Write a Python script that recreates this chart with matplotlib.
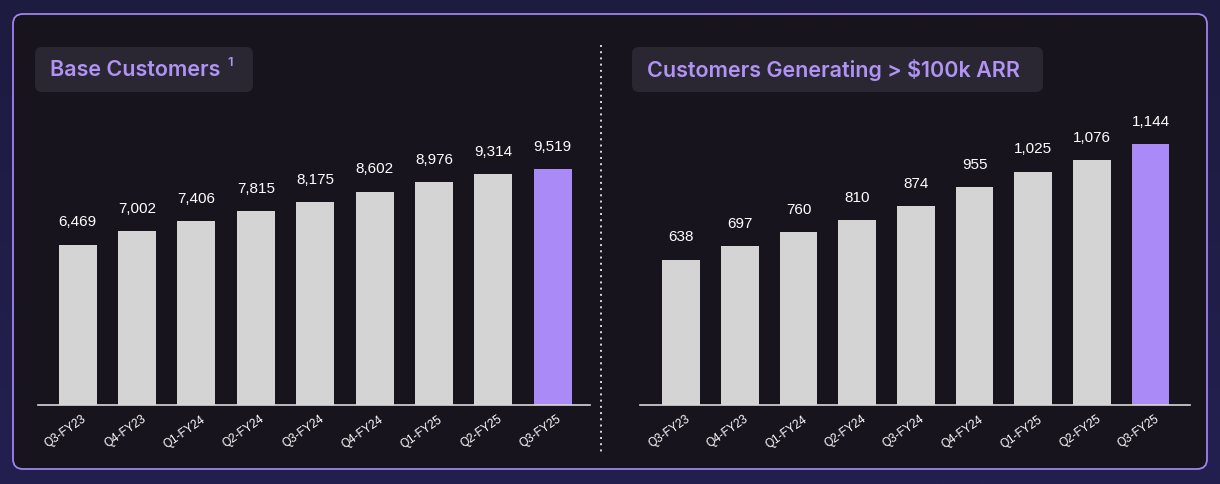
import numpy as np
import matplotlib.pyplot as plt
import matplotlib.transforms as mtrans
from matplotlib.patches import FancyBboxPatch
from matplotlib.colors import LinearSegmentedColormap

quarters = ["Q3-FY23", "Q4-FY23", "Q1-FY24", "Q2-FY24", "Q3-FY24",
            "Q4-FY24", "Q1-FY25", "Q2-FY25", "Q3-FY25"]
base_customers = [6469, 7002, 7406, 7815, 8175, 8602, 8976, 9314, 9519]
customers_100k = [638, 697, 760, 810, 874, 955, 1025, 1076, 1144]

W, H = 1220, 484
GRAY = "#d4d4d4"
PURPLE = "#a98af7"
TITLE_C = "#b193f5"
FONT = ["Liberation Sans", "DejaVu Sans"]

fig = plt.figure(figsize=(W / 100, H / 100), dpi=100)

# background layer in pixel coordinates
bg = fig.add_axes([0, 0, 1, 1])
bg.set_xlim(0, W)
bg.set_ylim(H, 0)
bg.axis("off")
grad = np.linspace(0, 1, 256).reshape(-1, 1)
bg.imshow(grad, extent=(0, W, H, 0), aspect="auto",
          cmap=LinearSegmentedColormap.from_list("g", ["#1d1b3f", "#232050"]),
          zorder=0)
bg.add_patch(FancyBboxPatch((13, 14), 1194, 455,
                            boxstyle="round,pad=0,rounding_size=10",
                            fc="#17141e", ec="#a083ee", lw=1.3, zorder=1))
bg.plot([601, 601], [45, 455], ls=(0, (1, 2.2)), color="#d8d8e0", lw=1.4, zorder=2)

for x0, x1, txt in [(35, 253, "Base Customers"),
                    (632, 1043, "Customers Generating > $100k ARR")]:
    bg.add_patch(FancyBboxPatch((x0, 47), x1 - x0, 45,
                                boxstyle="round,pad=0,rounding_size=7",
                                fc="#2a2733", ec="none", zorder=2))
    bg.text(x0 + 15, 70, txt, color=TITLE_C, fontsize=15.5, fontweight="semibold",
            family=["Inter", "DejaVu Sans"], va="center", ha="left", zorder=3)
bg.text(227, 63, "1", color=TITLE_C, fontsize=9.5, fontweight="semibold",
        family=["Inter", "DejaVu Sans"], va="center", ha="left", zorder=3)


def panel(left_px, right_px, vals, xlim, ymax):
    base_y = 405
    top_y = 100
    ax = fig.add_axes([left_px / W, (H - base_y) / H,
                       (right_px - left_px) / W, (base_y - top_y) / H])
    ax.patch.set_alpha(0)
    x = np.arange(len(vals))
    colors = [GRAY] * (len(vals) - 1) + [PURPLE]
    ax.bar(x, vals, width=0.64, color=colors, zorder=2)
    for xi, v in zip(x, vals):
        ax.annotate(f"{v:,}", (xi, v), xytext=(0, 11), textcoords="offset points",
                    ha="center", va="bottom", color="white", fontsize=11,
                    family=FONT)
    ax.set_xlim(*xlim)
    ax.set_ylim(0, ymax)
    for s in ["top", "right", "left"]:
        ax.spines[s].set_visible(False)
    ax.spines["bottom"].set_color("#d8d8d8")
    ax.spines["bottom"].set_linewidth(1.2)
    ax.set_yticks([])
    ax.set_xticks(x)
    ax.set_xticklabels(quarters, rotation=35, ha="right", rotation_mode="anchor",
                       color="white", fontsize=8.5, family=FONT)
    ax.tick_params(axis="x", length=0, pad=6)
    # shift tick labels slightly right so their ends sit near bar centres
    off = mtrans.ScaledTranslation(3 / 72, 0, fig.dpi_scale_trans)
    for lbl in ax.get_xticklabels():
        lbl.set_transform(lbl.get_transform() + off)
    return ax


panel(38, 590, base_customers, (-0.67, 8.63), 305 / 0.0248)
panel(640, 1190, customers_100k, (-0.70, 8.67), 305 / 0.2278)

fig.savefig("out.png", dpi=100)
